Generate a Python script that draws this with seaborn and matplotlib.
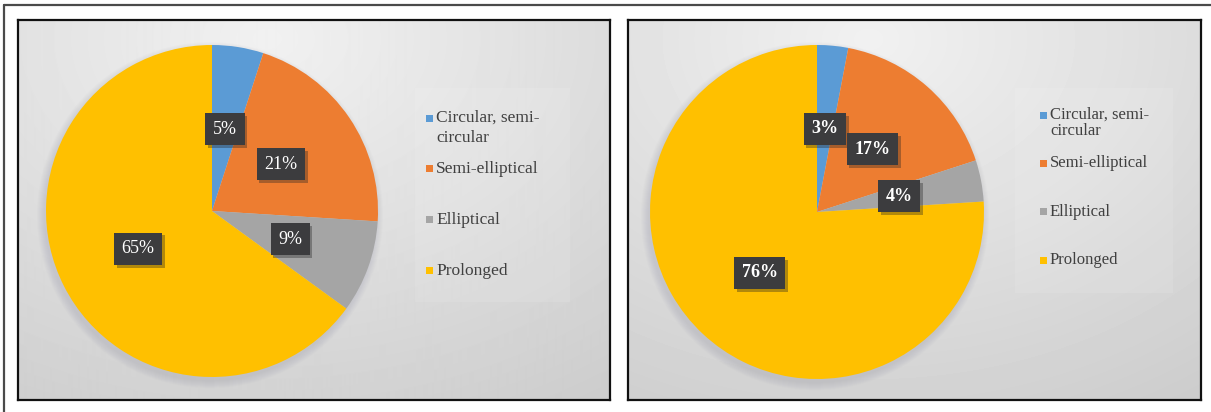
import numpy as np
import matplotlib
matplotlib.use("Agg")
import matplotlib.pyplot as plt
import matplotlib.patheffects as pe
from matplotlib.patches import Rectangle, Circle
from matplotlib.lines import Line2D
from matplotlib.transforms import Affine2D
import seaborn as sns

# Crack shape categories and their shares (%) in the two samples
categories = ["Circular, semi-\ncircular", "Semi-elliptical", "Elliptical", "Prolonged"]
share_left = [5, 21, 9, 65]
share_right = [3, 17, 4, 76]
palette = ["#5B9BD5", "#ED7D31", "#A5A5A5", "#FFC000"]

sns.set_theme(style="white")
plt.rcParams["font.family"] = "serif"
plt.rcParams["font.serif"] = ["Liberation Serif", "DejaVu Serif"]

W, H = 1211, 412
fig = plt.figure(figsize=(W / 100, H / 100), dpi=100)
fig.patch.set_facecolor("white")

# pixel coordinates measured from the top-left corner of the figure
px = Affine2D().scale(1 / W, -1 / H).translate(0, 1) + fig.transFigure


def px_rect(x0, y0, x1, y1):
    return [x0 / W, 1 - y1 / H, (x1 - x0) / W, (y1 - y0) / H]


# outer frame (open at right and bottom)
fig.add_artist(Line2D([4, W], [5, 5], transform=px, color="#4a4a4a", lw=1.6))
fig.add_artist(Line2D([4, 4], [5, H], transform=px, color="#4a4a4a", lw=1.6))


def draw_panel(box, values, centre, radius, legend_box, legend_x, legend_y0,
               legend_step, line_step, legend_fs, label_weight):
    x0, y0, x1, y1 = box
    bg = fig.add_axes(px_rect(*box))
    w, h = x1 - x0, y1 - y0
    gx, gy = np.meshgrid(np.linspace(0, 1, w), np.linspace(0, 1, h))
    shade = 0.945 - 0.14 * np.sqrt(((gx - 0.42) * 1.0) ** 2 + ((gy - 0.05) * 0.9) ** 2)
    bg.imshow(shade, cmap="gray", vmin=0, vmax=1, extent=(0, 1, 0, 1),
              aspect="auto", interpolation="bilinear")
    bg.set_xlim(0, 1)
    bg.set_ylim(0, 1)
    bg.set_xticks([])
    bg.set_yticks([])
    for s in bg.spines.values():
        s.set_color("#111111")
        s.set_linewidth(1.6)

    # slightly lighter legend area
    lx0, ly0, lx1, ly1 = legend_box
    fig.add_artist(Rectangle((lx0, ly0), lx1 - lx0, ly1 - ly0, transform=px,
                             facecolor="white", alpha=0.1, edgecolor="none"))

    cx, cy = centre
    ax = fig.add_axes(px_rect(cx - radius, cy - radius, cx + radius, cy + radius))
    ax.patch.set_alpha(0)
    # soft shadow below the pie
    for k in range(8):
        ax.add_patch(Circle((-0.012, -0.025), 1.0 + 0.006 * k, facecolor="#8c8c9c",
                            edgecolor="none", alpha=0.03, zorder=0, clip_on=False))
    wedges, _, pct = ax.pie(values, colors=palette, startangle=90, counterclock=False,
                            autopct=lambda p: f"{p:.0f}%", pctdistance=0.5,
                            wedgeprops=dict(linewidth=0))
    for wdg in wedges:
        wdg.set_zorder(2)
    ax.set_xlim(-1, 1)
    ax.set_ylim(-1, 1)
    ax.set_aspect("equal")
    ax.axis("off")
    for t in pct:
        t.set(color="white", fontsize=13, fontweight=label_weight, zorder=5)
        t.set_bbox(dict(boxstyle="square,pad=0.42", facecolor="#3c3c3e", edgecolor="none"))
        t.get_bbox_patch().set_path_effects(
            [pe.SimplePatchShadow(offset=(2, -2), shadow_rgbFace="#222222", alpha=0.35),
             pe.Normal()])

    # legend
    for i, (name, col) in enumerate(zip(categories, palette)):
        y = legend_y0 + i * legend_step
        fig.add_artist(Rectangle((legend_x - 10.5, y - 3.5), 7, 7, transform=px,
                                 facecolor=col, edgecolor="none"))
        for k, line in enumerate(name.split("\n")):
            fig.text(legend_x, y + k * line_step, line, transform=px, va="center",
                     ha="left", fontsize=legend_fs, color="#404040")


draw_panel((18, 20, 610, 400), share_left, (212, 211), 166,
           (415, 88, 570, 302), 436, 118, 51, 20, 12.5, "normal")
draw_panel((628, 20, 1201, 400), share_right, (817, 212), 167,
           (1015, 88, 1173, 293), 1050, 115, 48.5, 16, 12, "bold")

fig.savefig("out.png", dpi=100, facecolor="white")
